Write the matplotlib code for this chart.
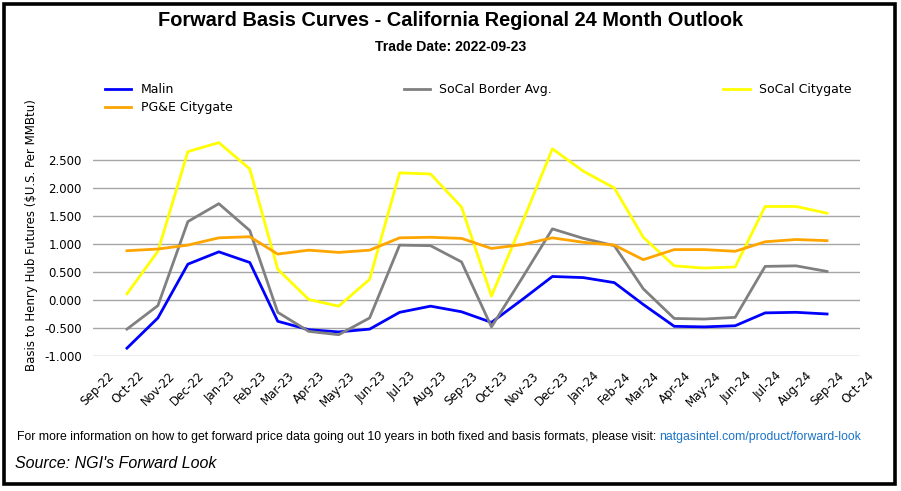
import datetime as dt
import matplotlib
matplotlib.use("Agg")
import matplotlib.pyplot as plt
import matplotlib.transforms as mtransforms
from matplotlib.patches import Rectangle

# forward months (Oct-22 .. Sep-24)
months = [dt.date(2022 + (9 + i) // 12, (9 + i) % 12 + 1, 1) for i in range(24)]

malin = [-0.86, -0.32, 0.64, 0.86, 0.67, -0.38, -0.53, -0.57, -0.52, -0.22, -0.11, -0.21,
         -0.40, 0.01, 0.42, 0.40, 0.31, -0.08, -0.47, -0.48, -0.46, -0.23, -0.22, -0.25]
socal_border = [-0.52, -0.10, 1.40, 1.72, 1.24, -0.22, -0.56, -0.62, -0.32, 0.98, 0.97, 0.68,
                -0.48, 0.40, 1.27, 1.10, 0.97, 0.20, -0.33, -0.34, -0.31, 0.60, 0.61, 0.51]
socal_citygate = [0.11, 0.87, 2.65, 2.81, 2.34, 0.55, 0.01, -0.11, 0.37, 2.27, 2.25, 1.66,
                  0.07, 1.39, 2.70, 2.30, 2.00, 1.12, 0.61, 0.57, 0.59, 1.67, 1.67, 1.55]
pge_citygate = [0.88, 0.91, 0.98, 1.11, 1.13, 0.82, 0.89, 0.85, 0.89, 1.11, 1.12, 1.10,
                0.92, 0.99, 1.11, 1.03, 0.98, 0.72, 0.90, 0.90, 0.87, 1.04, 1.08, 1.06]

# axis tick months (Sep-22 .. Oct-24)
tick_months = [dt.date(2022 + (8 + i) // 12, (8 + i) % 12 + 1, 1) for i in range(26)]
yticks = [-1.0, -0.5, 0.0, 0.5, 1.0, 1.5, 2.0, 2.5]

fig = plt.figure(figsize=(9.01, 4.91), dpi=100)
ax = fig.add_axes([93 / 901, (491 - 356) / 491, (860 - 93) / 901, (356 - 132) / 491])

l_malin, = ax.plot(months, malin, color="#0000ff", lw=2, label="Malin")
l_border, = ax.plot(months, socal_border, color="#808080", lw=2, label="SoCal Border Avg.")
l_city, = ax.plot(months, socal_citygate, color="#ffff00", lw=2, label="SoCal Citygate")
l_pge, = ax.plot(months, pge_citygate, color="#ffa500", lw=2, label="PG&E Citygate")

ax.set_xlim(dt.date(2022, 8, 28), dt.date(2024, 10, 4))
ax.set_ylim(-1.0, 3.0)
ax.tick_params(length=0, pad=8)
ax.set_yticks(yticks)
ax.set_yticklabels([f"{v:.3f}" for v in yticks], fontsize=8.5)
ax.set_xticks(tick_months)
ax.set_xticklabels([d.strftime("%b-%y") for d in tick_months], fontsize=8.5,
                   rotation=45, ha="right", rotation_mode="anchor")
# excel puts the rotated labels a bit right of the tick
offset = mtransforms.ScaledTranslation(10 / 100, -2 / 100, fig.dpi_scale_trans)
for lab in ax.get_xticklabels():
    lab.set_transform(lab.get_transform() + offset)
ax.grid(axis="y", color="#a6a6a6", lw=1)
ax.set_axisbelow(True)
for s in ax.spines.values():
    s.set_visible(False)
ax.set_ylabel("Basis to Henry Hub Futures ($U.S. Per MMBtu)", fontsize=8.5)
ax.yaxis.set_label_coords(-0.0716, 0.54)

# column-first fill: Malin / PG&E, SoCal Border, SoCal Citygate
fig.legend([l_malin, l_pge, l_border, l_city],
           ["Malin", "PG&E Citygate", "SoCal Border Avg.", "SoCal Citygate"],
           loc="upper left", bbox_to_anchor=(105 / 901, (491 - 83) / 491), ncol=3,
           frameon=False, fontsize=9, handlelength=2.1, handletextpad=0.75,
           columnspacing=13.7, labelspacing=0.4, borderpad=0, borderaxespad=0)

fig.text(0.5, (491 - 20) / 491, "Forward Basis Curves - California Regional 24 Month Outlook",
         ha="center", va="center", fontsize=14.4, fontweight="bold", family="Liberation Sans")
fig.text(0.5, (491 - 47) / 491, "Trade Date: 2022-09-23", ha="center", va="center",
         fontsize=10.1, fontweight="bold", family="Liberation Sans")

foot = fig.text(17 / 901, (491 - 437) / 491,
                "For more information on how to get forward price data going out 10 years in "
                "both fixed and basis formats, please visit: ",
                ha="left", va="center", fontsize=8.8, family="Liberation Sans")
fig.canvas.draw()
bb = foot.get_window_extent()
fig.text(bb.x1 / 901, bb.y0 / 491,
         "natgasintel.com/product/forward-look", fontsize=8.8, family="Liberation Sans",
         color="#1a73c8", ha="left", va="bottom")

fig.text(15 / 901, (491 - 463) / 491, "Source: NGI's Forward Look", ha="left", va="center",
         fontsize=11.5, style="italic", family="Liberation Sans")

fig.patches.append(Rectangle((3.5 / 901, 7 / 491), (895 - 3.5) / 901, (484 - 3.5) / 491,
                             transform=fig.transFigure, fill=False, ec="black", lw=2.6))

fig.savefig("out.png", dpi=100)
